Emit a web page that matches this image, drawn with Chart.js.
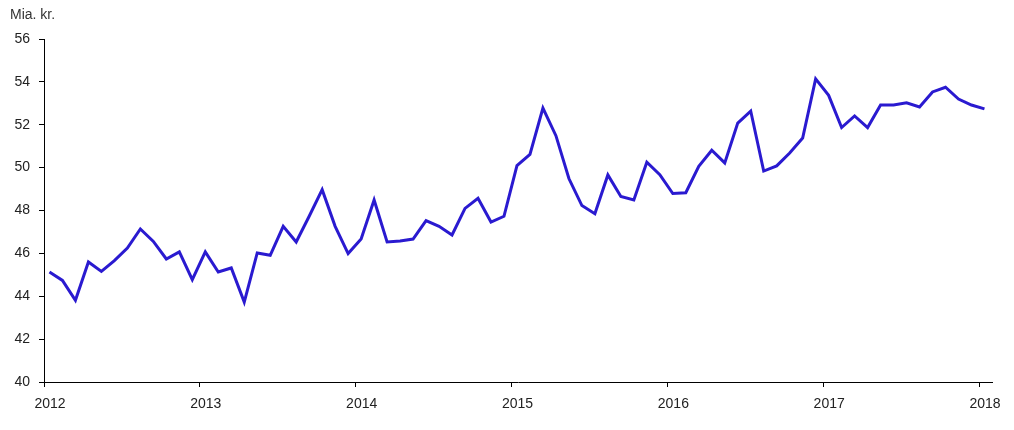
<!DOCTYPE html>
<html>
<head>
<meta charset="utf-8">
<script src="https://cdn.jsdelivr.net/npm/chart.js@4"></script>
<style>
html,body{margin:0;padding:0;background:#fff;}
#wrap{position:relative;width:1014px;height:430px;}
</style>
</head>
<body>
<div id="wrap"><canvas id="c"></canvas></div>
<script>
const unitLabel = 'Mia. kr.';
const startYear = 2012;
const yearTicks = [2012, 2013, 2014, 2015, 2016, 2017, 2018];
const yTicks = [40, 42, 44, 46, 48, 50, 52, 54, 56];
// Monthly values Jan 2012 .. Jan 2018
const values2012 = [45.13, 44.74, 43.81, 45.60, 45.16, 45.66, 46.25, 47.14, 46.56, 45.74, 46.07, 44.77];
const values2013 = [46.07, 45.13, 45.32, 43.73, 46.02, 45.91, 47.26, 46.53, 47.73, 48.97, 47.26, 45.99];
const values2014 = [46.67, 48.49, 46.53, 46.58, 46.67, 47.53, 47.26, 46.86, 48.10, 48.57, 47.46, 47.73];
const values2015 = [50.09, 50.62, 52.78, 51.49, 49.49, 48.23, 47.85, 49.66, 48.65, 48.49, 50.25, 49.67];
const values2016 = [48.79, 48.83, 50.06, 50.81, 50.22, 52.08, 52.64, 49.84, 50.08, 50.68, 51.38, 54.14];
const values2017 = [53.37, 51.87, 52.41, 51.87, 52.92, 52.92, 53.02, 52.83, 53.53, 53.75, 53.20, 52.92];
const values2018 = [52.74];

const values = [].concat(values2012, values2013, values2014, values2015, values2016, values2017, values2018);
const monthOffset = 0.42;
const points = values.map((v, i) => ({x: i + monthOffset, y: v}));

const textColor = '#222';
const font = {family: '"Liberation Sans", Arial, Helvetica, sans-serif', size: 14};

const unitPlugin = {
  id: 'unitLabel',
  afterDraw(chart) {
    const ctx = chart.ctx;
    ctx.save();
    ctx.font = '14px "Liberation Sans", Arial, sans-serif';
    ctx.fillStyle = '#333';
    ctx.textBaseline = 'middle';
    ctx.textAlign = 'left';
    ctx.fillText(unitLabel, 10, 15);
    ctx.restore();
  }
};

new Chart(document.getElementById('c'), {
  type: 'line',
  data: {
    datasets: [{
      data: points,
      borderColor: '#2a1ad0',
      borderWidth: 3,
      pointRadius: 0,
      tension: 0,
      fill: false
    }]
  },
  options: {
    responsive: true,
    maintainAspectRatio: false,
    animation: false,
    layout: {padding: {top: 39, right: 22, left: 0, bottom: 0}},
    plugins: {legend: {display: false}, tooltip: {enabled: false}},
    scales: {
      x: {
        type: 'linear',
        min: 0,
        max: 73,
        afterFit(s) { s.height = 48; },
        afterBuildTicks(s) { s.ticks = yearTicks.map(y => ({value: (y - startYear) * 12})); },
        ticks: {
          color: textColor, font: font, padding: 9, maxRotation: 0, autoSkip: false, labelOffset: 6,
          callback: v => String(startYear + v / 12)
        },
        grid: {display: true, drawOnChartArea: false, drawTicks: true, tickLength: 5, color: '#000', lineWidth: 1},
        border: {display: true, color: '#000', width: 1}
      },
      y: {
        min: 40,
        max: 56,
        afterFit(s) { s.width = 44; },
        afterBuildTicks(s) { s.ticks = yTicks.map(v => ({value: v})); },
        ticks: {color: textColor, font: font, padding: 9},
        grid: {display: true, drawOnChartArea: false, drawTicks: true, tickLength: 5, color: '#000', lineWidth: 1},
        border: {display: true, color: '#000', width: 1}
      }
    }
  },
  plugins: [unitPlugin]
});
</script>
</body>
</html>
